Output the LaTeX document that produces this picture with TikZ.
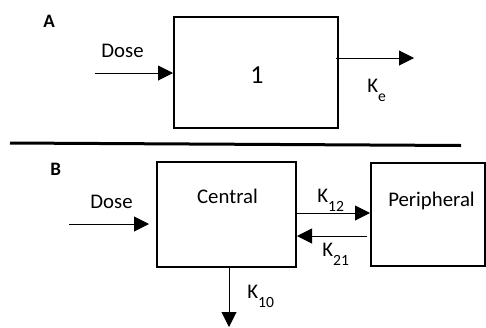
\documentclass[tikz,border=0pt]{standalone}
\usepackage{fontspec}
\setmainfont{Carlito}
\usepackage{tikz}
\usetikzlibrary{arrows.meta,positioning,calc}
\newcommand{\krate}[1]{K\raisebox{-4.6pt}{\fontsize{7.8}{8}\selectfont #1}}
\tikzset{
  comp/.style={draw,line width=1pt,inner sep=0pt},
  lbl/.style={inner sep=0pt,font=\fontsize{10.4}{12}\selectfont},
  tag/.style={inner sep=0pt,font=\fontsize{9.5}{11}\selectfont\bfseries},
  arr/.style={-{Triangle[length=7.5pt,width=7.5pt]},line width=0.5pt},
  sep/.style={line width=1.5pt}
}
\begin{document}
\begin{tikzpicture}[x=0.5pt,y=-0.5pt]
  \useasboundingbox (0,0) rectangle (486,327);
  % panel A
  \node[tag,anchor=base west] (tagA) at (43,27) {A};
  \node[comp,minimum width=82pt,minimum height=55.5pt] (one) at (256,72.5) {};
  \node[inner sep=0pt,font=\fontsize{13}{14}\selectfont,anchor=base] (onelbl) at (257,83) {1};
  \coordinate (doseAin) at (95,73);
  \coordinate (keout) at (414,58);
  \draw[arr] (doseAin) -- (doseAin -| one.west);
  \draw[arr] ([xshift=-1.5pt]keout -| one.east) -- (keout);
  \node[lbl,anchor=base west] (doseA) at (101,57) {Dose};
  \node[lbl,anchor=base west] (ke) at (367,92) {\krate{e}};
  % separator
  \draw[sep] (10,143) -- (461,145.5);
  % panel B
  \node[tag,anchor=base west] (tagB) at (50,175) {B};
  \node[comp,minimum width=69.5pt,minimum height=52.5pt] (central) at (226.5,214.5) {};
  \node[comp,minimum width=57pt,minimum height=51.5pt] (periph) at (428,214.5) {};
  \node[lbl,anchor=base] (centrallbl) at (227.5,203) {Central};
  \node[lbl,anchor=base] (periphlbl) at (431.5,206) {Peripheral};
  \coordinate (doseBin) at (69,224);
  \coordinate (elim) at (229,327);
  \draw[arr] (doseBin) -- ([xshift=-3.5pt]doseBin -| central.west);
  \draw[arr] ([yshift=0.75pt]central.east) -- ([yshift=0.75pt]periph.west);
  \draw[arr] ([xshift=-1.5pt,yshift=-10.75pt]periph.west) -- ([yshift=-10.75pt]central.east);
  \draw[arr] (elim |- central.south) -- (elim);
  \node[lbl,anchor=base west] (doseB) at (90,208) {Dose};
  \node[lbl,anchor=base west] (k12) at (317,202) {\krate{12}};
  \node[lbl,anchor=base west] (k21) at (322,256) {\krate{21}};
  \node[lbl,anchor=base west] (k10) at (247,298) {\krate{10}};
\end{tikzpicture}
\end{document}
